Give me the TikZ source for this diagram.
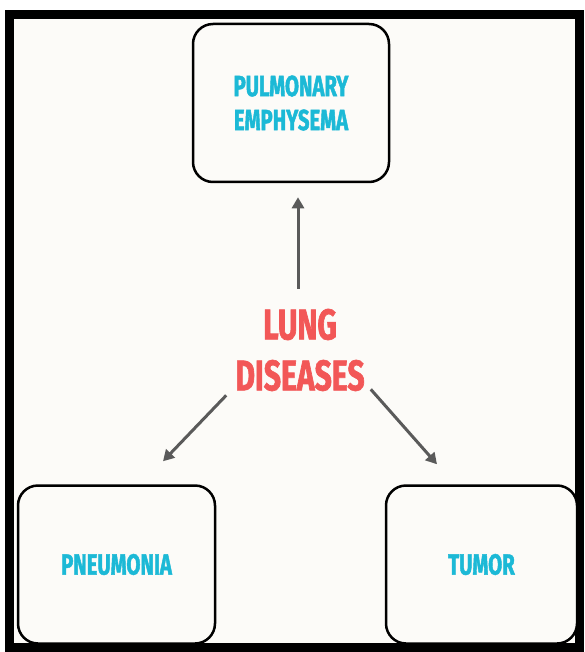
\documentclass[tikz,border=0pt]{standalone}
\usepackage{fontspec}
\newfontfamily\diagfont{Fira Sans}[FakeStretch=0.70, FakeBold=1.5]
\usetikzlibrary{arrows.meta,positioning}
\definecolor{cyanlbl}{HTML}{1CB9D6}
\definecolor{redlbl}{HTML}{F25757}
\definecolor{arrgray}{HTML}{5A5A5A}
\definecolor{paper}{HTML}{FCFBF8}
\tikzset{
  diseasebox/.style={draw=black, line width=2.5pt, rounded corners=20pt, fill=paper,
    minimum width=196pt, minimum height=158pt, text=cyanlbl, align=center,
    font=\diagfont\bfseries\fontsize{29}{34}\selectfont},
  arr/.style={draw=arrgray, line width=3pt, -{Triangle[length=11pt,width=12pt]}}
}
\begin{document}
\begin{tikzpicture}[x=1pt,y=-1pt]
\useasboundingbox (0,0) rectangle (584,652);
% frame
\fill[white] (0,0) rectangle (584,652);
\fill[paper] (9.5,14.5) rectangle (579.5,647.5);
\draw[line width=9pt] (9.5,14.5) rectangle (579.5,647.5);
% boxes
\node[diseasebox] (emph) at (291,103) {PULMONARY\\EMPHYSEMA};
\node[diseasebox, minimum width=197pt] (pneu) at (116.5,564.5) {PNEUMONIA};
\node[diseasebox, minimum width=191pt] (tumor) at (481.5,564.5) {TUMOR};
% center
\node[inner sep=0pt, text=redlbl, align=center,
  font=\diagfont\bfseries\fontsize{43}{51}\selectfont] (dis) at (300,350) {LUNG\\DISEASES};
% arrows
\draw[arr, shorten <=20pt, shorten >=14pt] ([xshift=-2pt]dis.north) -- ([xshift=-2pt]dis.north |- emph.south);
\draw[arr] ([shift={(-9,4)}]dis.south west) -- ([shift={(46.5,-23)}]pneu.north);
\draw[arr] ([shift={(6,-2)}]dis.south east) -- ([shift={(-44.5,-20)}]tumor.north);
\end{tikzpicture}
\end{document}
